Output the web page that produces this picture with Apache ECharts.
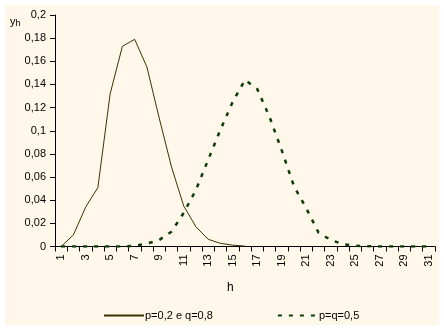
<!DOCTYPE html>
<html>
<head>
<meta charset="utf-8">
<script src="https://cdn.jsdelivr.net/npm/echarts@6/dist/echarts.min.js"></script>
<style>html,body{margin:0;padding:0;background:#fff;}#c{width:444px;height:329px;}</style>
</head>
<body>
<div id="c"></div>
<script>
var categories = ['1','2','3','4','5','6','7','8','9','10','11','12','13','14','15','16','17','18','19','20','21','22','23','24','25','26','27','28','29','30','31'];
var seriesA = [0, 0.010, 0.034, 0.051, 0.132, 0.173, 0.179, 0.155, 0.111, 0.069, 0.035, 0.017, 0.0062, 0.0027, 0.0012, 0.0003];
var seriesB = [0, 0, 0, 0, 0, 0, 0.0006, 0.0025, 0.0056, 0.0128, 0.029, 0.049, 0.075, 0.101, 0.125, 0.144, 0.136, 0.112, 0.083, 0.052, 0.033, 0.012, 0.0056, 0.002, 0.0007, 0.0002, 0, 0, 0, 0, 0];
var yTicks = [0, 0.02, 0.04, 0.06, 0.08, 0.1, 0.12, 0.14, 0.16, 0.18, 0.2];
var seriesNames = ['p=0,2 e q=0,8', 'p=q=0,5'];

var font = 'Liberation Sans, Arial, sans-serif';
var chart = echarts.init(document.getElementById('c'), null, {renderer: 'canvas'});
chart.setOption({
  animation: false,
  backgroundColor: '#ffffff',
  graphic: [
    {type: 'rect', z: -10, shape: {x: 5, y: 5, width: 434, height: 320}, style: {fill: '#FFF8EA'}},
    {type: 'text', left: 10, top: 16, style: {text: '{a|y}{b|h}', rich: {a: {fontSize: 11, fontFamily: font, fill: '#000'}, b: {fontSize: 9, fontFamily: font, fill: '#000', padding: [5, 0, 0, 0]}}}},
    {type: 'text', left: 227, top: 282, style: {text: 'h', fontSize: 12, fontFamily: font, fill: '#000'}}
  ],
  grid: {left: 55, top: 15, right: 9, bottom: 82.5, containLabel: false},
  legend: {
    left: 98, top: 305, itemWidth: 40, itemHeight: 14, itemGap: 64,
    itemStyle: {opacity: 0},
    textStyle: {fontSize: 11, fontFamily: font, color: '#000', padding: [0, 0, 0, -4]},
    data: seriesNames
  },
  xAxis: {
    type: 'category', data: categories, boundaryGap: true,
    axisLine: {lineStyle: {color: '#000', width: 1}},
    axisTick: {show: true, interval: 0, length: 5, lineStyle: {color: '#000'}},
    axisLabel: {interval: 1, rotate: 90, fontSize: 11, fontFamily: font, color: '#000', margin: 8}
  },
  yAxis: {
    type: 'value', min: 0, max: 0.2, interval: 0.02,
    axisLine: {show: true, lineStyle: {color: '#000', width: 1}},
    axisTick: {show: true, length: 5, lineStyle: {color: '#000'}},
    splitLine: {show: false},
    axisLabel: {fontSize: 11, fontFamily: font, color: '#000', margin: 9,
      formatter: function (v) { return String(Math.round(v * 100) / 100).replace('.', ','); }}
  },
  series: [
    {name: seriesNames[0], type: 'line', data: seriesA, symbol: 'none', smooth: false,
      lineStyle: {color: '#3f3000', width: 1}, itemStyle: {color: '#3f3000'}, z: 3},
    {name: seriesNames[1], type: 'line', data: seriesB, symbol: 'none', smooth: false,
      lineStyle: {color: '#0b3d0b', width: 2.5, type: [4, 7]}, itemStyle: {color: '#0b3d0b'}, z: 4}
  ]
});
</script>
</body>
</html>
